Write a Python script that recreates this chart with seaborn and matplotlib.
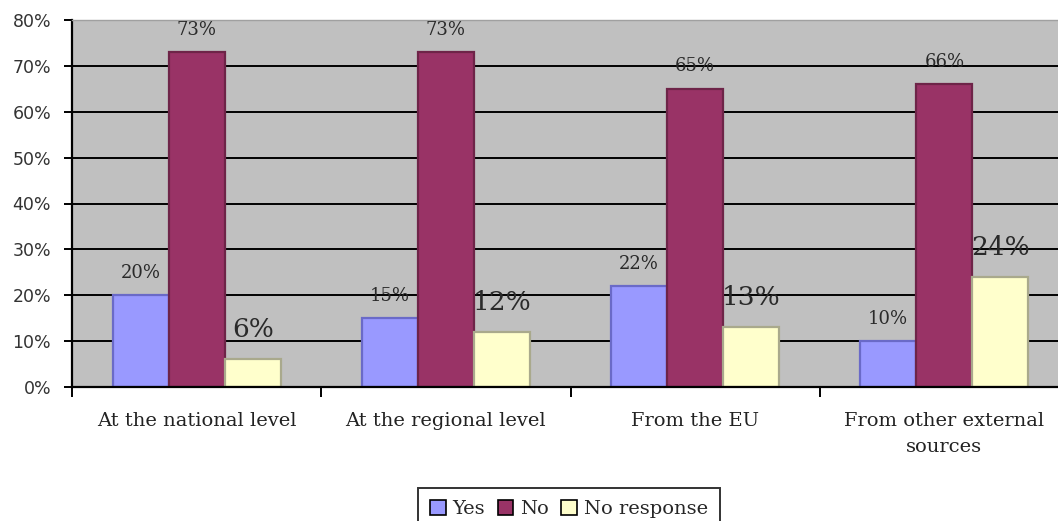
import matplotlib
matplotlib.use("Agg")
import matplotlib.pyplot as plt
from matplotlib.patches import Patch
from matplotlib.ticker import FixedLocator, PercentFormatter
import seaborn as sns
import pandas as pd

# Survey responses per funding source (percent of respondents)
categories = ["At the national level", "At the regional level",
              "From the EU", "From other external\nsources"]
responses = ["Yes", "No", "No response"]
yes_values = [20, 15, 22, 10]
no_values = [73, 73, 65, 66]
no_response_values = [6, 12, 13, 24]

face_colors = ["#9999FF", "#993366", "#FFFFCC"]
edge_colors = ["#6A6AC8", "#6E2448", "#A9A98C"]

df = pd.DataFrame({
    "category": categories * 3,
    "response": [r for r in responses for _ in categories],
    "value": yes_values + no_values + no_response_values,
})

sns.set_style("white")
serif = ["DejaVu Serif"]

fig = plt.figure(figsize=(10.58, 5.21), dpi=100)
W, H = 1058, 521
ax = fig.add_axes([72 / W, (H - 387) / H, (1069 - 72) / W, (387 - 20) / H])
ax.set_facecolor("#C0C0C0")

sns.barplot(data=df, x="category", y="value", hue="response",
            hue_order=responses, order=categories, palette=face_colors,
            width=0.675, ax=ax, legend=False, saturation=1)

# edge colours per series, value labels above each bar
label_style = {
    "Yes": dict(fontsize=13, offset=12.5),
    "No": dict(fontsize=13, offset=12.5),
    "No response": dict(fontsize=19, offset=16),
}
for container, resp, ec in zip(ax.containers, responses, edge_colors):
    st = label_style[resp]
    for bar in container:
        bar.set_edgecolor(ec)
        bar.set_linewidth(1.6)
        h = bar.get_height()
        ax.annotate(f"{h:.0f}%", (bar.get_x() + bar.get_width() / 2, h),
                    xytext=(0, st["offset"]), textcoords="offset points",
                    ha="center", va="baseline", fontsize=st["fontsize"],
                    family=serif, color="#2a2a2a")

ax.set_ylim(0, 80)
ax.set_xlim(-0.5, 3.5)
ax.yaxis.set_major_locator(FixedLocator(range(0, 81, 10)))
ax.yaxis.set_major_formatter(PercentFormatter(decimals=0))
ax.grid(axis="y", color="black", linewidth=1.4)
ax.set_axisbelow(True)
# the top edge of the plot area carries no gridline
ax.yaxis.get_gridlines()[-1].set_visible(False)

ax.spines["right"].set_visible(False)
ax.spines["top"].set_color("#A0A0A0")
ax.spines["top"].set_linewidth(1.0)
ax.spines["left"].set_color("black")
ax.spines["left"].set_linewidth(1.6)
ax.spines["bottom"].set_color("black")
ax.spines["bottom"].set_linewidth(1.6)

ax.tick_params(axis="y", which="major", left=True, length=6, width=1.4,
               color="black", labelsize=12.5, labelcolor="#333333", pad=9)
ax.xaxis.set_minor_locator(FixedLocator([-0.5, 0.5, 1.5, 2.5, 3.5]))
ax.tick_params(axis="x", which="minor", bottom=True, length=7, width=1.4,
               color="black")
ax.tick_params(axis="x", which="major", bottom=False, length=0, pad=18,
               labelsize=14, labelcolor="#222222")
for lbl in ax.get_xticklabels():
    lbl.set_family(serif)
    lbl.set_linespacing(1.6)
    lbl.set_verticalalignment("top")
ax.set_xlabel("")
ax.set_ylabel("")

handles = [Patch(facecolor=fc, edgecolor="black", linewidth=1.2)
           for fc in face_colors]
leg = fig.legend(handles, responses, loc="upper center",
                 bbox_to_anchor=(569 / W, (H - 488) / H), ncol=3,
                 frameon=True, fancybox=False, handlelength=0.8,
                 handleheight=0.8, handletextpad=0.35, columnspacing=0.65,
                 borderpad=0.6, borderaxespad=0,
                 prop={"family": serif, "size": 14})
leg.get_frame().set_edgecolor("black")
leg.get_frame().set_linewidth(1.4)

fig.savefig("out.png", dpi=100)
